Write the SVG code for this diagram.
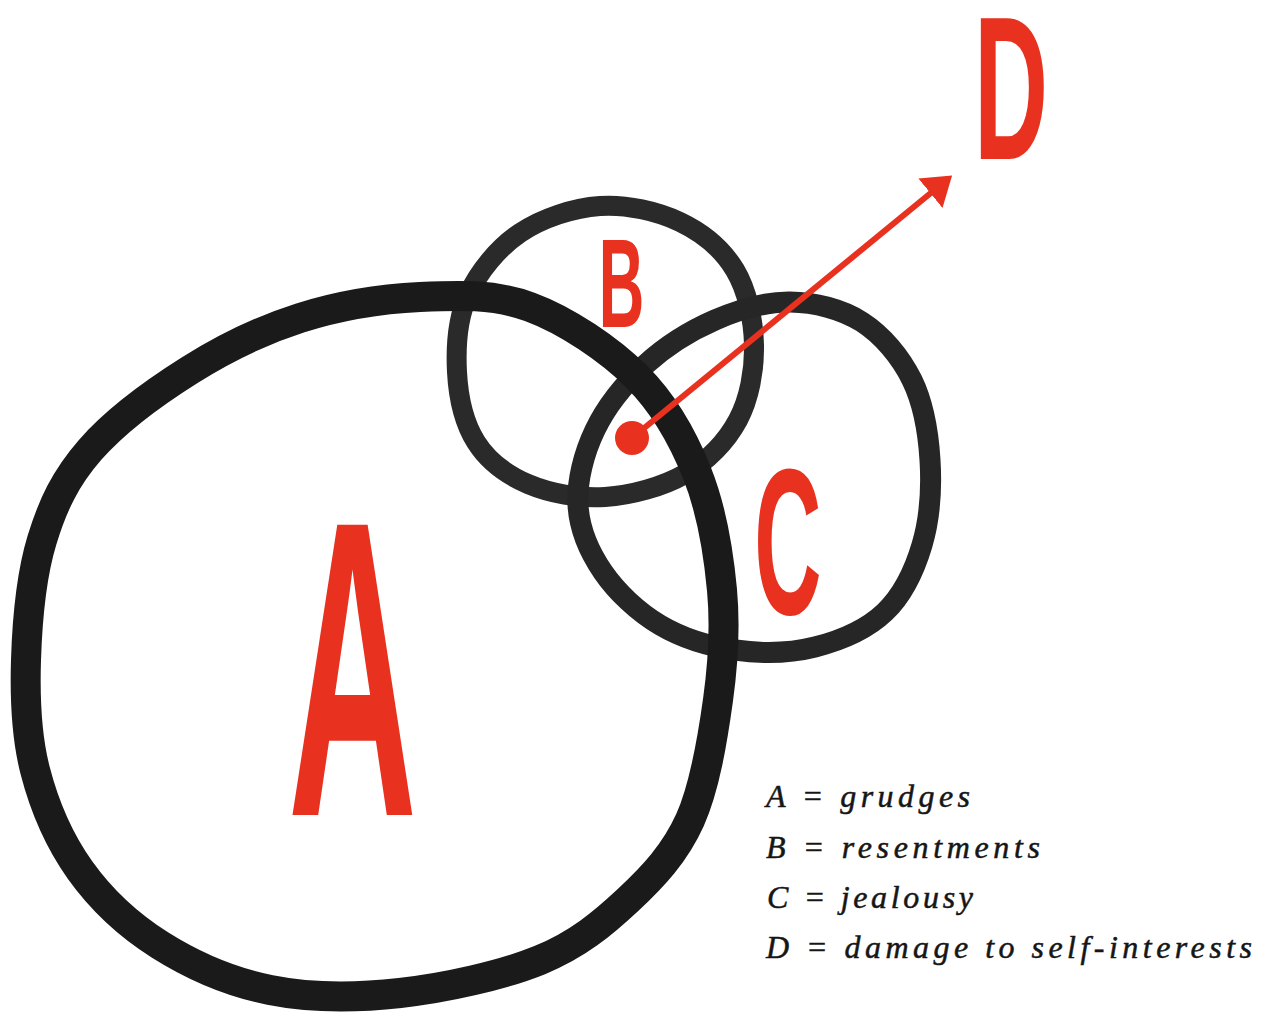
<svg xmlns="http://www.w3.org/2000/svg" width="1266" height="1013" viewBox="0 0 1266 1013">
<defs>
<style>
.ring{fill:none;stroke-linejoin:round;stroke-linecap:round}
.ringA{stroke:#1a1a1a;stroke-width:30}
.ringB{stroke:#2a2a2a;stroke-width:20}
.ringC{stroke:#262626;stroke-width:21}
.big{font-family:"Liberation Sans",Arial,sans-serif;font-weight:bold;fill:#e8321f;text-anchor:middle}
.legend{font-family:"Liberation Serif","Times New Roman",serif;font-style:italic;font-size:32px;fill:#161616;stroke:#161616;stroke-width:0.5}
.conn{stroke:#e8321f;stroke-width:6;fill:none}
</style>
<marker id="head" markerUnits="userSpaceOnUse" viewBox="0 -22 28 44" refX="2" refY="0" markerWidth="28" markerHeight="44" orient="auto">
<path d="M0,-19 L28,0 L0,19 Z" fill="#e8321f"/>
</marker>
</defs>
<rect width="1266" height="1013" fill="#ffffff"/>

<g id="node-B">
<path class="ring ringB" d="M600,206 C626.7,204.2 657.5,211.3 680,222 C702.5,232.7 722.7,249.5 735,270 C747.3,290.5 753.5,320 754,345 C754.5,370 749.5,398.5 738,420 C726.5,441.5 707.2,461.2 685,474 C662.8,486.8 631.2,495.3 605,497 C578.8,498.7 549.5,493.2 528,484 C506.5,474.8 487.8,460.7 476,442 C464.2,423.3 458.3,396.5 457,372 C455.7,347.5 457.5,318.2 468,295 C478.5,271.8 498,247.8 520,233 C542,218.2 573.3,207.8 600,206 Z"/>
</g>

<g id="node-C">
<path class="ring ringC" d="M790,302 C814.5,302.3 841.7,309 862,322 C882.3,335 900.7,357 912,380 C923.3,403 928.3,432.5 930,460 C931.7,487.5 929.5,519.7 922,545 C914.5,570.3 902.8,595 885,612 C867.2,629 840,640.7 815,647 C790,653.3 760.8,653.7 735,650 C709.2,646.3 682,638 660,625 C638,612 616.7,592 603,572 C589.3,552 579.3,528.7 578,505 C576.7,481.3 583.8,453.3 595,430 C606.2,406.7 625,383.3 645,365 C665,346.7 690.8,330.5 715,320 C739.2,309.5 765.5,301.7 790,302 Z"/>
</g>

<g id="node-A">
<path class="ring ringA" d="M420,297 C458.3,295.2 493.8,293.7 530,307 C566.2,320.3 609.2,349.3 637,377 C664.8,404.7 682.8,437.5 697,473 C711.2,508.5 718.5,552.2 722,590 C725.5,627.8 723.3,661.7 718,700 C712.7,738.3 705,786.7 690,820 C675,853.3 653,876.7 628,900 C603,923.3 578,944.5 540,960 C502,975.5 445,988 400,993 C355,998 310,998 270,990 C230,982 191.7,965 160,945 C128.3,925 100.8,899.2 80,870 C59.2,840.8 44,805 35,770 C26,735 24.8,698.3 26,660 C27.2,621.7 31.3,575 42,540 C52.7,505 65.3,478.3 90,450 C114.7,421.7 155,392 190,370 C225,348 261.7,330.2 300,318 C338.3,305.8 381.7,298.8 420,297 Z"/>
<text class="big" font-size="422" transform="translate(352.5,815) scale(0.423,1)" x="0" y="0">A</text>
</g>

<g id="label-B">
<text class="big" font-size="126" transform="translate(621.5,327) scale(0.5,1)" x="0" y="0">B</text>
</g>

<g id="label-C">
<text class="big" font-size="207" transform="translate(788,614) scale(0.45,1)" x="0" y="0">C</text>
</g>

<g id="node-D">
<text class="big" font-size="205" transform="translate(1011,159) scale(0.5,1)" x="0" y="0">D</text>
</g>

<g id="connectors">
<line class="conn" x1="632" y1="438" x2="932" y2="192" marker-end="url(#head)"/>
<circle cx="632" cy="438" r="17" fill="#e8321f"/>
</g>

<g id="legend">
<text class="legend" x="766" y="807" textLength="204" lengthAdjust="spacing">A = grudges</text>
<text class="legend" x="766" y="858" textLength="274" lengthAdjust="spacing">B = resentments</text>
<text class="legend" x="767" y="908" textLength="206" lengthAdjust="spacing">C = jealousy</text>
<text class="legend" x="766" y="958" textLength="486" lengthAdjust="spacing">D = damage to self-interests</text>
</g>
</svg>
